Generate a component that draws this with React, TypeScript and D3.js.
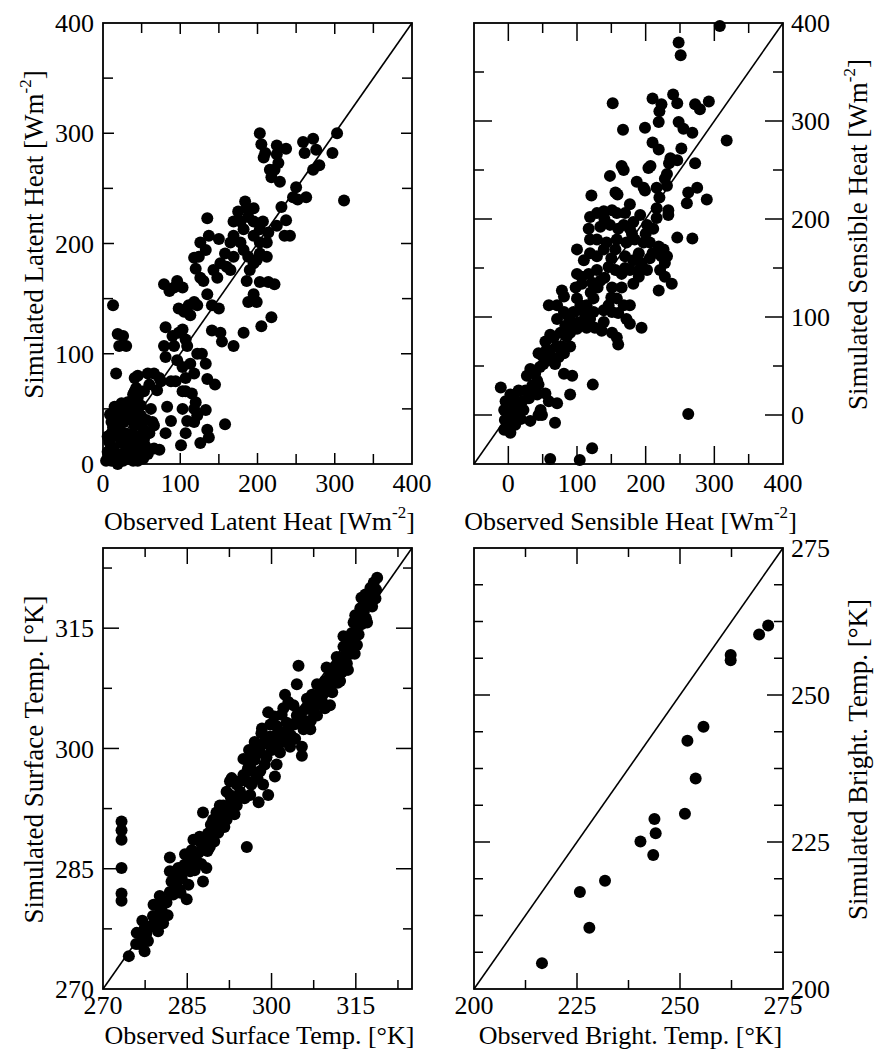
import * as d3 from "d3";
import { useRef, useEffect } from "react";

type Pt = [number, number];

// observed vs simulated latent heat [Wm-2]
const latentHeat: Pt[] = [
  [203, 300], [205, 290], [210, 282], [208, 278], [225, 289], [237, 286], [225, 281], [227, 273], [216, 267], [222, 267], [229, 256], [218, 260],
  [259, 292], [261, 282], [272, 295], [276, 285], [272, 267], [280, 271], [263, 242], [297, 282], [303, 300], [312, 239],
  [250, 251], [246, 242], [252, 240], [231, 233], [225, 216], [237, 221], [242, 207], [235, 207], [214, 210], [207, 220], [195, 232],
  [184, 238], [186, 232], [175, 229], [169, 220], [178, 220], [188, 224], [195, 220], [169, 207], [182, 213], [195, 207], [203, 213],
  [212, 201], [203, 201], [178, 201], [165, 201], [182, 194], [188, 188], [195, 182], [190, 176], [203, 191], [212, 188], [199, 185],
  [186, 166], [188, 147], [195, 154], [203, 165], [214, 165], [199, 147], [218, 133], [205, 125], [182, 119], [169, 107], [222, 163],
  [135, 223], [137, 207], [126, 201], [124, 188], [133, 194], [118, 187], [120, 177], [126, 169], [130, 166], [143, 176], [150, 204],
  [152, 182], [160, 179], [165, 176], [148, 169], [158, 191], [169, 188], [135, 154], [118, 147], [111, 144], [122, 144], [105, 138],
  [113, 135], [103, 160], [92, 160], [96, 166], [79, 163], [86, 157], [98, 141], [141, 144], [150, 141], [141, 121], [152, 119], [154, 111],
  [81, 124], [90, 116], [98, 119], [103, 122], [107, 113], [109, 107], [92, 107], [79, 107], [81, 97], [96, 94], [103, 88], [113, 91],
  [122, 100], [128, 100], [133, 91], [118, 82], [107, 78], [94, 75], [88, 75], [107, 66], [115, 64], [120, 56], [118, 50], [133, 49],
  [122, 44], [118, 38], [135, 31], [137, 24], [126, 19], [109, 39], [107, 28], [103, 50], [103, 66], [135, 77], [145, 72], [83, 52],
  [88, 39], [81, 28], [101, 17], [158, 36],
  [45, 80], [58, 82], [66, 82], [73, 78], [60, 72], [53, 66], [70, 67], [41, 66], [36, 56], [45, 60], [64, 38], [66, 35], [66, 14], [73, 13], [75, 75],
  [13, 144], [19, 118], [26, 116], [21, 107], [30, 107], [17, 82],
  [6, 11], [11, 16], [17, 6], [19, 0], [24, 9], [15, 28], [11, 38], [17, 44], [21, 35], [28, 28], [34, 41], [28, 47], [39, 47], [41, 35],
  [45, 25], [49, 44], [49, 53], [36, 19], [30, 9], [41, 9], [49, 13], [53, 22], [58, 9], [24, 19], [6, 25], [4, 3], [11, 3], [26, 3],
  [39, 3], [45, 3], [15, 52], [24, 55], [32, 56], [39, 63], [41, 78], [43, 69], [19, 25], [34, 25], [11, 28], [49, 35], [53, 31],
  [8, 20], [14, 12], [20, 30], [27, 38], [32, 15], [38, 28], [44, 18], [47, 42], [55, 16], [52, 5], [35, 5], [22, 46], [9, 45],
  [13, 33], [30, 50], [40, 55], [56, 40], [60, 28], [62, 50],
];

// observed vs simulated sensible heat [Wm-2]
const sensibleHeat: Pt[] = [
  [308, 397], [248, 380], [251, 367], [318, 280],
  [152, 318], [210, 323], [240, 327], [246, 318], [223, 317], [220, 310], [219, 299], [199, 293], [167, 291], [272, 317], [279, 312],
  [292, 320], [248, 299], [255, 292], [268, 288], [210, 278], [219, 271], [252, 272], [236, 262], [246, 260], [234, 257], [207, 254],
  [204, 252], [165, 254], [168, 250], [148, 244], [272, 257], [231, 246], [228, 241], [187, 238], [197, 232], [199, 229], [156, 227],
  [159, 225], [121, 224], [216, 232], [220, 222], [231, 234], [275, 232], [262, 227], [289, 220], [260, 216], [216, 211], [233, 209],
  [233, 204], [246, 181], [268, 180], [216, 201],
  [119, 202], [129, 206], [139, 208], [151, 209], [158, 206], [177, 215], [170, 206], [182, 197], [192, 204], [202, 194], [211, 190],
  [177, 190], [168, 194], [148, 194], [134, 192], [117, 190], [119, 179], [129, 179], [143, 176], [158, 179], [172, 176], [184, 179],
  [197, 176], [206, 176], [219, 172], [226, 169], [223, 162], [228, 155], [221, 148], [228, 141], [238, 134], [219, 127], [206, 160],
  [194, 155], [182, 158], [170, 162], [156, 169], [139, 169], [129, 162], [119, 165], [110, 158], [100, 169], [100, 144], [107, 141],
  [117, 144], [129, 148], [134, 137], [122, 135], [107, 134], [146, 151], [156, 148], [165, 144], [177, 148], [190, 148], [202, 148],
  [190, 141], [182, 134], [165, 130], [151, 130], [158, 119], [168, 112], [177, 112], [146, 112], [139, 107], [151, 105], [160, 104],
  [172, 98], [177, 93], [139, 95], [136, 86], [151, 84], [158, 79], [160, 72], [194, 89], [124, 119], [114, 112], [110, 105], [124, 105],
  [119, 98], [126, 89], [114, 89], [105, 95], [100, 119], [105, 112], [95, 105], [90, 98], [86, 102], [100, 88], [90, 84], [81, 105],
  [71, 98], [83, 91], [76, 84], [78, 70], [90, 70], [73, 59], [81, 63], [68, 52], [81, 42], [93, 40], [98, 130], [78, 127], [81, 121],
  [71, 112], [59, 112], [61, 82], [54, 75], [66, 79], [56, 67], [44, 63], [61, 56], [51, 52], [46, 49], [32, 47], [39, 42], [27, 40],
  [42, 35], [49, 61], [44, 31], [32, 24], [42, 21], [54, 22], [59, 14], [71, 12], [47, 5], [44, 0], [30, 17], [20, 14], [15, 8], [22, 5],
  [8, 17], [3, 21], [-11, 28], [-4, 14], [8, 10], [-6, 5], [6, 1], [1, -4], [18, -4], [13, 1], [32, -6], [-2, -11], [-6, -15], [3, -18],
  [49, 0], [68, -8], [90, 21], [123, 31], [61, -45], [104, -46], [122, -34], [262, 1], [231, 162],
  [140, 200], [160, 190], [180, 185], [200, 185], [150, 160], [170, 150], [190, 165], [210, 165], [130, 130], [140, 140], [150, 120],
  [120, 125], [110, 95], [95, 90], [85, 80], [70, 70], [60, 65], [35, 30], [25, 25], [15, 25], [10, -10], [-5, -5],
];

// observed vs simulated surface temperature [K]
const surfaceTemp: Pt[] = [
  [273.3, 290.9], [273.3, 289.8], [273.3, 288.6], [273.3, 285.1], [273.3, 281.9], [273.3, 281.0],
  [274.6, 274.1], [277.1, 276.5], [277.4, 274.7], [276.5, 275.6], [277.4, 277.5], [278.9, 279.1], [278.9, 277.8], [280.4, 279.9],
  [280.1, 281.6], [280.7, 278.2], [281.9, 284.7], [281.9, 286.4], [282.2, 283.4], [283.4, 282.5], [284.0, 283.8], [283.4, 285.1],
  [284.6, 286.8], [284.9, 281.2], [285.5, 284.7], [286.6, 286.0], [286.1, 288.6], [287.8, 292.0], [287.2, 289.0], [287.8, 283.4],
  [288.4, 285.1], [289.0, 287.7], [289.3, 289.8], [290.2, 292.0], [290.2, 290.3], [291.4, 292.9], [292.0, 291.1], [292.6, 294.2],
  [292.9, 296.3], [293.8, 295.5], [293.8, 292.9], [295.0, 298.7], [295.0, 296.7], [296.2, 294.2], [296.5, 297.2], [297.4, 299.8],
  [297.7, 293.3], [298.2, 301.9], [298.5, 295.5], [299.4, 294.2], [299.4, 304.5], [298.5, 300.6], [300.0, 299.8], [300.9, 298.0],
  [300.6, 296.5], [300.9, 302.8], [302.1, 305.0], [302.4, 306.7], [303.3, 300.2], [302.1, 302.0], [303.3, 302.8], [304.5, 304.1],
  [304.8, 310.3], [304.5, 308.0], [305.4, 300.2], [305.4, 299.1], [305.7, 302.4], [306.9, 302.4], [306.3, 306.2], [307.5, 304.5],
  [308.1, 308.0], [309.0, 305.8], [309.5, 308.4], [309.8, 310.1], [310.4, 307.5], [311.0, 309.3], [311.6, 311.4], [312.2, 308.4],
  [312.8, 312.7], [313.4, 310.6], [314.0, 311.8], [314.6, 313.1], [314.3, 314.4], [315.2, 315.3], [314.9, 316.6], [315.8, 317.5],
  [316.4, 317.0], [316.7, 319.2], [317.6, 320.0], [318.2, 320.7], [318.5, 318.7], [317.9, 317.7], [317.0, 315.7], [315.2, 312.9],
  [312.8, 311.0], [308.1, 304.1], [310.4, 305.4], [307.8, 306.4],
  [292.6, 295.9], [292.0, 294.6], [290.8, 292.9], [289.6, 291.1], [288.7, 289.4], [287.5, 288.1], [286.4, 286.8], [285.5, 286.0],
  [284.3, 284.7], [283.1, 283.4], [281.9, 282.1], [281.3, 280.8], [280.1, 279.5], [279.5, 278.6], [278.3, 277.8], [277.7, 276.9],
  [275.9, 275.6], [289.6, 289.0], [290.8, 291.1], [293.2, 293.3], [294.4, 294.6], [295.6, 295.9], [296.2, 298.0], [296.8, 298.9],
  [298.0, 297.2], [299.1, 298.9], [299.7, 301.5], [301.2, 300.6], [302.7, 303.2], [303.9, 305.4], [305.1, 304.5], [306.0, 304.9],
  [307.2, 306.7], [308.6, 307.1], [309.8, 307.5], [310.4, 309.3], [311.6, 309.7], [312.2, 310.6], [313.4, 312.3], [314.0, 313.6],
  [312.8, 314.0], [314.6, 315.7], [315.8, 316.2], [316.4, 317.9], [317.6, 318.7], [295.6, 287.7],
  [276.0, 277.0], [277.0, 278.5], [278.0, 276.0], [279.0, 280.5], [279.8, 277.2], [280.8, 281.0], [281.5, 279.2], [282.5, 281.8],
  [283.0, 284.3], [283.8, 282.0], [284.5, 285.5], [285.2, 283.0], [285.8, 287.3], [286.3, 284.8], [287.0, 287.0], [287.5, 285.6],
  [288.0, 288.8], [288.6, 287.2], [289.2, 290.5], [289.8, 288.4], [290.5, 289.5], [291.0, 291.8], [291.6, 290.2], [292.3, 292.4],
  [292.8, 293.8], [293.4, 291.8], [294.0, 294.0], [294.6, 296.0], [295.2, 293.8], [295.8, 297.5], [296.4, 295.5], [297.0, 298.6],
  [297.5, 296.3], [298.0, 299.5], [298.8, 298.0], [299.2, 300.8], [299.8, 303.0], [300.3, 301.0], [301.0, 301.8], [301.5, 299.5],
  [302.0, 300.8], [302.8, 301.0], [303.5, 301.6], [304.0, 303.0], [304.2, 301.2], [305.0, 303.3], [305.8, 303.5], [306.5, 305.2],
  [307.0, 303.5], [307.8, 305.3], [308.4, 306.2], [309.2, 306.8], [309.5, 305.0], [310.0, 308.5], [310.8, 307.0], [311.3, 310.2],
  [311.8, 308.2], [312.5, 309.5], [313.0, 311.6], [313.6, 309.8], [314.2, 312.8], [314.8, 311.8], [315.5, 314.2], [316.0, 315.5],
  [316.8, 316.2], [317.3, 319.0], [318.6, 319.8], [318.8, 321.3], [316.0, 318.8], [300.5, 304.0], [301.8, 304.2], [303.0, 305.8],
  [297.0, 300.8], [298.3, 302.5], [296.0, 299.8],
];

// observed vs simulated brightness temperature [K]
const brightTemp: Pt[] = [
  [216.5, 204.4], [225.7, 216.5], [228.0, 210.4], [231.8, 218.4], [240.4, 225.1], [243.5, 222.8], [243.8, 228.9], [244.1, 226.5],
  [251.2, 229.8], [251.8, 242.2], [253.8, 235.8], [255.7, 244.6], [262.3, 256.8], [262.3, 255.9], [269.2, 260.3], [271.4, 261.8],
];

const heatTicks = [0, 100, 200, 300, 400];
const surfaceTicks = [270, 285, 300, 315];
const brightTicks = [200, 225, 250, 275];

const panels = [
  {
    pts: latentHeat, dom: [0, 400], xLabels: heatTicks, yLabels: heatTicks, xStep: 50, yStep: 50,
    x0: 103, y0: 23, side: "left", major: 11, minor: 10, labGap: 28, titleY: 530,
    xTitle: ["Observed Latent Heat [Wm", "-2", "]"], yTitle: ["Simulated Latent Heat [Wm", "-2", "]"],
  },
  {
    pts: sensibleHeat, dom: [-50, 400], xLabels: heatTicks, yLabels: heatTicks, xStep: 50, yStep: 50,
    x0: 474, y0: 23, side: "right", major: 18, minor: 10, labGap: 28, titleY: 530,
    xTitle: ["Observed Sensible Heat [Wm", "-2", "]"], yTitle: ["Simulated Sensible Heat [Wm", "-2", "]"],
  },
  {
    pts: surfaceTemp, dom: [270, 325], xLabels: surfaceTicks, yLabels: surfaceTicks, xStep: 7.5, yStep: 7.5,
    x0: 103, y0: 548, side: "left", major: 16, minor: 9, labGap: 25, titleY: 1044,
    xTitle: ["Observed Surface Temp. [°K]"], yTitle: ["Simulated Surface Temp. [°K]"],
  },
  {
    pts: brightTemp, dom: [200, 275], xLabels: brightTicks, yLabels: brightTicks, xStep: 12.5, yStep: 6.25,
    x0: 474, y0: 548, side: "right", major: 16, minor: 9, labGap: 25, titleY: 1044,
    xTitle: ["Observed Bright. Temp. [°K]"], yTitle: ["Simulated Bright. Temp. [°K]"],
  },
];

const W = 309;
const H = 441;
const FONT = "'Liberation Serif', 'Times New Roman', serif";

function addTitle(sel: any, parts: string[]) {
  sel.append("tspan").text(parts[0]);
  if (parts.length > 1) {
    sel.append("tspan").attr("dy", -12).attr("font-size", 17).text(parts[1]);
    sel.append("tspan").attr("dy", 12).text(parts[2]);
  }
}

function App() {
  const svgRef = useRef<SVGSVGElement>(null);

  useEffect(() => {
    const svg = d3.select(svgRef.current);
    svg.selectAll("*").remove();

    panels.forEach((p) => {
      const x = d3.scaleLinear().domain(p.dom).range([p.x0, p.x0 + W]);
      const y = d3.scaleLinear().domain(p.dom).range([p.y0 + H, p.y0]);
      const g = svg.append("g");
      const x1 = p.x0 + W;
      const y1 = p.y0 + H;

      // 1:1 line
      g.append("line")
        .attr("x1", x(p.dom[0])).attr("y1", y(p.dom[0]))
        .attr("x2", x(p.dom[1])).attr("y2", y(p.dom[1]))
        .attr("stroke", "#000").attr("stroke-width", 1.6);

      // ticks, inward on all sides
      const xt = d3.range(p.dom[0] + p.xStep, p.dom[1] - 1e-6, p.xStep);
      const yt = d3.range(p.dom[0] + p.yStep, p.dom[1] - 1e-6, p.yStep);
      const len = (v: number, labels: number[]) => (labels.includes(v) ? p.major : p.minor);
      xt.forEach((v) => {
        const L = len(v, p.xLabels);
        g.append("line").attr("x1", x(v)).attr("x2", x(v)).attr("y1", y1).attr("y2", y1 - L).attr("stroke", "#000").attr("stroke-width", 1.5);
        g.append("line").attr("x1", x(v)).attr("x2", x(v)).attr("y1", p.y0).attr("y2", p.y0 + L).attr("stroke", "#000").attr("stroke-width", 1.5);
      });
      yt.forEach((v) => {
        const L = len(v, p.yLabels);
        g.append("line").attr("x1", p.x0).attr("x2", p.x0 + L).attr("y1", y(v)).attr("y2", y(v)).attr("stroke", "#000").attr("stroke-width", 1.5);
        g.append("line").attr("x1", x1).attr("x2", x1 - L).attr("y1", y(v)).attr("y2", y(v)).attr("stroke", "#000").attr("stroke-width", 1.5);
      });

      g.append("rect")
        .attr("x", p.x0).attr("y", p.y0).attr("width", W).attr("height", H)
        .attr("fill", "none").attr("stroke", "#000").attr("stroke-width", 1.8);

      // points
      g.selectAll("circle")
        .data(p.pts)
        .join("circle")
        .attr("cx", (d: Pt) => x(d[0]))
        .attr("cy", (d: Pt) => y(d[1]))
        .attr("r", 6)
        .attr("fill", "#000");

      // tick labels
      g.selectAll(".xlab")
        .data(p.xLabels)
        .join("text")
        .attr("class", "xlab")
        .attr("x", (d: number) => x(d))
        .attr("y", y1 + p.labGap)
        .attr("text-anchor", "middle")
        .attr("font-family", FONT)
        .attr("font-size", 26)
        .text((d: number) => d);

      const left = p.side === "left";
      g.selectAll(".ylab")
        .data(p.yLabels)
        .join("text")
        .attr("class", "ylab")
        .attr("x", left ? p.x0 - 9 : x1 + 8)
        .attr("y", (d: number) => y(d))
        .attr("dy", "0.35em")
        .attr("text-anchor", left ? "end" : "start")
        .attr("font-family", FONT)
        .attr("font-size", 26)
        .text((d: number) => d);

      // axis titles
      const xTitle = g.append("text")
        .attr("x", p.x0 + W / 2 + 2)
        .attr("y", p.titleY)
        .attr("text-anchor", "middle")
        .attr("font-family", FONT)
        .attr("font-size", 26);
      addTitle(xTitle, p.xTitle);

      const tx = left ? 43 : 867;
      const ty = p.y0 + H / 2 - 9;
      const yTitle = g.append("text")
        .attr("transform", `translate(${tx},${ty}) rotate(-90)`)
        .attr("text-anchor", "middle")
        .attr("font-family", FONT)
        .attr("font-size", 27);
      addTitle(yTitle, p.yTitle);
    });
  }, []);

  return (
    <svg
      ref={svgRef}
      width={875}
      height={1050}
      style={{ position: "absolute", left: 0, top: 0, background: "#fff" }}
    ></svg>
  );
}

export default App;
